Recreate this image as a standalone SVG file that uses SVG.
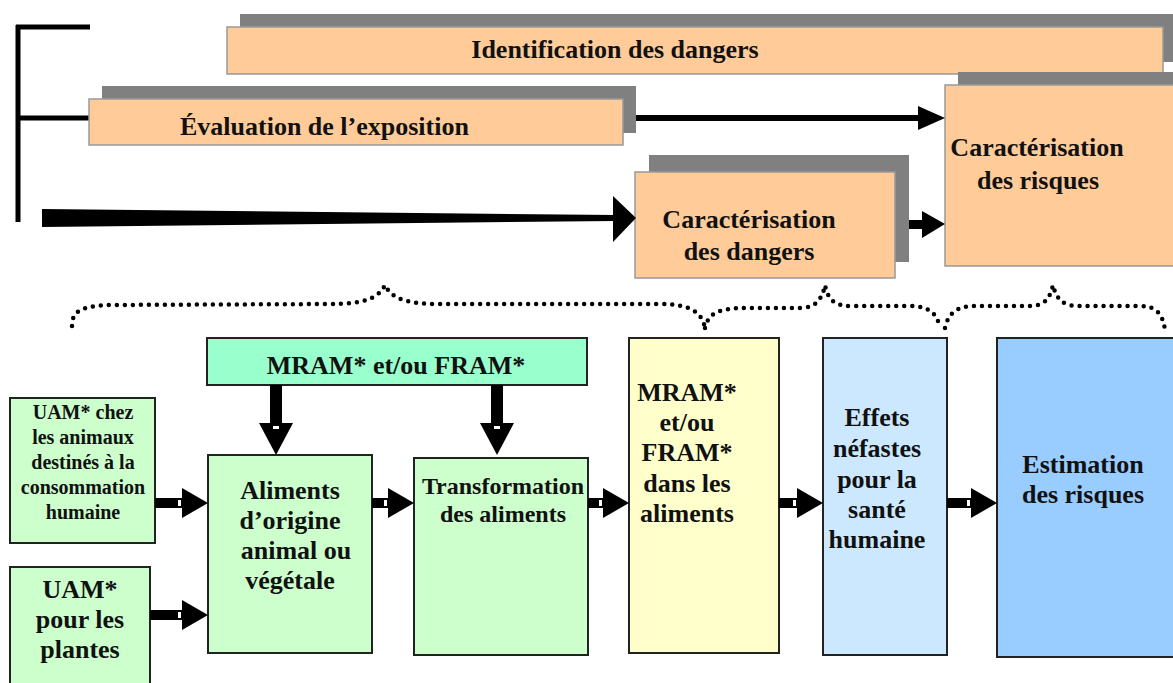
<svg xmlns="http://www.w3.org/2000/svg" width="1173" height="683" viewBox="0 0 1173 683">
<style>
.t{font-family:"Liberation Serif","Times New Roman",serif;font-weight:bold;fill:#111;text-anchor:middle}
.or{fill:#FFCC99;stroke:#999;stroke-width:1.5}
.sh{fill:#808080}
.bx{stroke:#222;stroke-width:2}
.dot{fill:none;stroke:#000;stroke-width:4.5;stroke-linecap:round;stroke-dasharray:0 8}
.ln{stroke:#000;fill:none}
.sf{fill:#000}
</style>
<defs>
<g id="hh">
<polygon points="-26,-15 0,0 -26,15" fill="#000"/>
<rect x="-30" y="-3" width="3" height="6" fill="#fff"/>
</g>
<g id="va">
<rect x="-6" y="0" width="12" height="40" fill="#000"/>
<polygon points="-17,38 17,38 0,70" fill="#000"/>
<rect x="-3" y="41" width="6" height="3" fill="#fff"/>
</g>
</defs>
<rect width="1173" height="683" fill="#fff"/>

<g id="bracket">
<path class="ln" d="M18,222 V25 M16,27 H90 M18,118 H89" stroke-width="5"/>
</g>

<g id="identification">
<rect class="sh" x="240" y="14" width="940" height="48"/>
<rect class="or" x="227" y="27" width="936" height="47"/>
<text class="t" x="615" y="58" font-size="26">Identification des dangers</text>
</g>

<g id="evaluation">
<rect class="sh" x="102" y="86" width="534" height="47"/>
<rect class="or" x="89" y="99" width="534" height="46"/>
<text class="t" x="180" y="135" font-size="26" style="text-anchor:start">Évaluation de l’exposition</text>
</g>

<g id="car-risques">
<rect class="sh" x="958" y="72" width="220" height="181"/>
<rect class="or" x="945" y="85" width="232" height="181"/>
<text class="t" x="1037" y="156" font-size="26">Caractérisation</text>
<text class="t" x="1038" y="189" font-size="26">des risques</text>
</g>

<g id="car-dangers">
<rect class="sh" x="649" y="155" width="260" height="107"/>
<rect class="or" x="635" y="172" width="260" height="106"/>
<text class="t" x="749" y="228" font-size="26">Caractérisation</text>
<text class="t" x="749" y="260" font-size="26">des dangers</text>
</g>

<g id="braces">
<path class="dot" d="M72,326 C72,312 80,306 110,305 L330,304 C360,304 378,300 385,285 C392,300 410,304 440,304 L660,304 C690,304 702,312 705,328"/>
<path class="dot" d="M705,328 C708,314 718,308 745,308 L800,308 C815,308 822,300 825,285 C828,300 835,306 850,306 L910,306 C930,306 937,314 940,328"/>
<path class="dot" d="M945,328 C948,314 956,306 975,306 L1030,306 C1045,306 1050,298 1053,285 C1056,298 1062,306 1078,306 L1140,306 C1158,306 1163,316 1165,330"/>
</g>

<g id="mram-top">
<rect class="bx" x="207" y="338" width="380" height="47" fill="#99FFCC"/>
<text class="t" x="396" y="374" font-size="26">MRAM* et/ou FRAM*</text>
</g>

<g id="uam-animaux">
<rect class="bx" x="10" y="398" width="145" height="145" fill="#CCFFCC"/>
<text class="t" x="83" y="419" font-size="20">UAM* chez</text>
<text class="t" x="83" y="444" font-size="20">les animaux</text>
<text class="t" x="83" y="469" font-size="20">destinés à la</text>
<text class="t" x="83" y="494" font-size="20">consommation</text>
<text class="t" x="83" y="519" font-size="20">humaine</text>
</g>

<g id="uam-plantes">
<rect class="bx" x="10" y="567" width="140" height="130" fill="#CCFFCC"/>
<text class="t" x="80" y="598" font-size="26">UAM*</text>
<text class="t" x="80" y="628" font-size="26">pour les</text>
<text class="t" x="80" y="658" font-size="26">plantes</text>
</g>

<g id="aliments">
<rect class="bx" x="208" y="455" width="164" height="198" fill="#CCFFCC"/>
<text class="t" x="290" y="499" font-size="26">Aliments</text>
<text class="t" x="290" y="529" font-size="26">d’origine</text>
<text class="t" x="296" y="559" font-size="26">animal ou</text>
<text class="t" x="290" y="589" font-size="26">végétale</text>
</g>

<g id="transformation">
<rect class="bx" x="414" y="458" width="174" height="197" fill="#CCFFCC"/>
<text class="t" x="503" y="494" font-size="24">Transformation</text>
<text class="t" x="503" y="522" font-size="24">des aliments</text>
</g>

<g id="mram-aliments">
<rect class="bx" x="629" y="338" width="150" height="315" fill="#FFFFCC"/>
<text class="t" x="687" y="401" font-size="26">MRAM*</text>
<text class="t" x="687" y="431" font-size="26">et/ou</text>
<text class="t" x="687" y="461" font-size="26">FRAM*</text>
<text class="t" x="687" y="492" font-size="26">dans les</text>
<text class="t" x="687" y="522" font-size="26">aliments</text>
</g>

<g id="effets">
<rect class="bx" x="823" y="338" width="124" height="317" fill="#CCE8FF" stroke="#555"/>
<text class="t" x="877" y="426" font-size="26">Effets</text>
<text class="t" x="877" y="457" font-size="26">néfastes</text>
<text class="t" x="877" y="488" font-size="26">pour la</text>
<text class="t" x="877" y="518" font-size="26">santé</text>
<text class="t" x="877" y="548" font-size="26">humaine</text>
</g>

<g id="estimation">
<rect class="bx" x="997" y="338" width="180" height="319" fill="#99CCFF"/>
<text class="t" x="1083" y="473" font-size="26">Estimation</text>
<text class="t" x="1083" y="503" font-size="26">des risques</text>
</g>

<g id="connectors">
<line class="ln" x1="636" y1="118" x2="922" y2="118" stroke-width="6"/>
<polygon points="918,106 945,118 918,130" fill="#000"/>
<polygon points="42,209 615,215 615,221 42,227" fill="#000"/>
<polygon points="613,196 636,218 613,242" fill="#000"/>
<rect x="909" y="220" width="16" height="9" fill="#000"/>
<polygon points="922,211 945,224 922,238" fill="#000"/>
<use href="#va" x="276" y="385"/>
<use href="#va" x="497" y="385"/>
<rect class="sf" x="155" y="498" width="28" height="10"/>
<use href="#hh" x="208" y="503"/>
<rect class="sf" x="150" y="610" width="33" height="10"/>
<use href="#hh" x="208" y="615"/>
<rect class="sf" x="372" y="498" width="17" height="10"/>
<use href="#hh" x="414" y="503"/>
<rect class="sf" x="588" y="498" width="16" height="10"/>
<use href="#hh" x="629" y="503"/>
<rect class="sf" x="779" y="498" width="19" height="10"/>
<use href="#hh" x="823" y="503"/>
<rect class="sf" x="947" y="498" width="25" height="10"/>
<use href="#hh" x="997" y="503"/>
</g>
</svg>
